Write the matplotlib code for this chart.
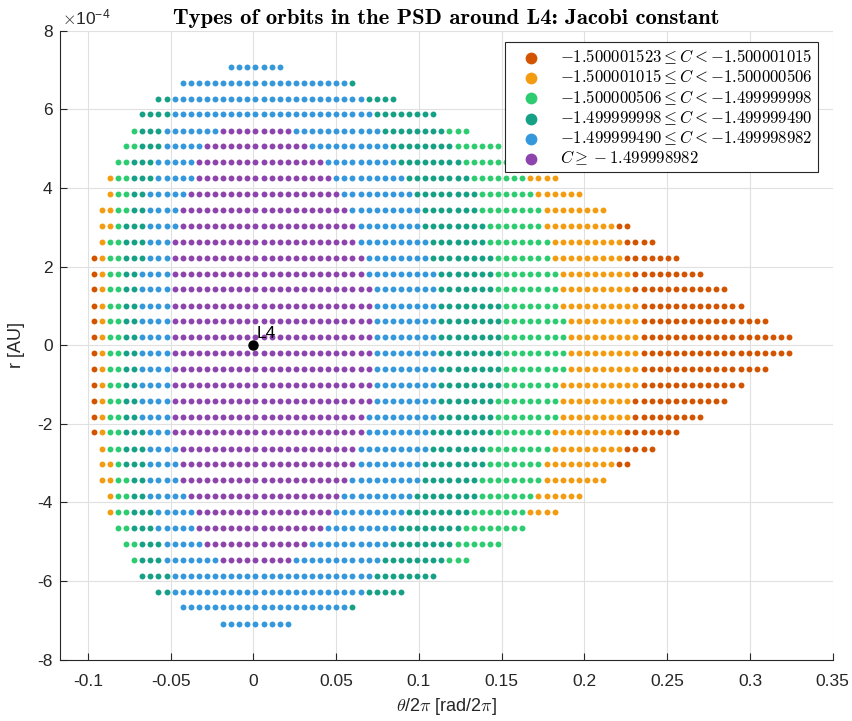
import os
import matplotlib
matplotlib.use('Agg')
import matplotlib.pyplot as plt
from matplotlib.font_manager import FontProperties

plt.rcParams['font.family'] = ['Liberation Sans', 'DejaVu Sans']
plt.rcParams['mathtext.fontset'] = 'cm'
plt.rcParams['axes.unicode_minus'] = False

# theta grid of the initial conditions (theta/2pi)
theta_first = -0.0965
theta_step = 0.004885

# r of every row of initial conditions [AU]
r_rows = [7.08e-4, 6.67e-4, 6.27e-4, 5.87e-4, 5.46e-4, 5.06e-4, 4.65e-4, 4.25e-4, 3.84e-4,
          3.44e-4, 3.03e-4, 2.63e-4, 2.22e-4, 1.82e-4, 1.42e-4, 1.01e-4, 0.61e-4, 0.20e-4,
          -0.20e-4, -0.61e-4, -1.01e-4, -1.42e-4, -1.82e-4, -2.22e-4, -2.63e-4, -3.03e-4,
          -3.44e-4, -3.84e-4, -4.25e-4, -4.65e-4, -5.06e-4, -5.46e-4, -5.87e-4, -6.27e-4,
          -6.67e-4, -7.08e-4]

# orbit type along each row: class letter + first-last column of the theta grid
row_runs = [
    "B17-23",
    "B11-31 T32",
    "T8-9 B10-33 T34-37",
    "T6-9 B10-34 T35-42",
    "G5 T6-8 B9-15 P16-24 B25-35 T36-43 G44-46",
    "G4-5 T6-8 B9-13 P14-26 B27-36 T37-44 G45-50",
    "G3-4 T5-7 B8-12 P13-28 B29-37 T38-45 G46-53",
    "O2 G3-4 T5-7 B8-12 P13-29 B30-38 T39-46 G47-53 O54-57",
    "O2 G3-4 T5-6 B7-11 P12-30 B31-39 T40-47 G48-54 O55-60",
    "O1-2 G3-4 T5-6 B7-10 P11-31 B32-40 T41-47 G48-55 O56-63",
    "O1-2 G3 T4-6 B7-10 P11-32 B33-40 T41-48 G49-55 O56-64 R65-66",
    "O1 G2-3 T4-6 B7-9 P10-32 B33-41 T42-48 G49-56 O57-65 R66-69",
    "R0 O1 G2-3 T4-6 B7-9 P10-33 B34-41 T42-49 G50-56 O57-65 R66-72",
    "R0 O1 G2-3 T4-5 B6-9 P10-33 B34-42 T43-49 G50-57 O58-66 R67-75",
    "R0 O1 G2-3 T4-5 B6-9 P10-34 B35-42 T43-49 G50-57 O58-66 R67-78",
    "R0 O1 G2-3 T4-5 B6-9 P10-34 B35-42 T43-50 G51-57 O58-67 R68-80",
    "R0 O1 G2-3 T4-5 B6-9 P10-34 B35-42 T43-50 G51-58 O59-67 R68-83",
    "R0 O1 G2-3 T4-5 B6-9 P10-34 B35-42 T43-50 G51-58 O59-67 R68-86",
    "R0 O1 G2-3 T4-5 B6-9 P10-34 B35-42 T43-50 G51-58 O59-67 R68-86",
    "R0 O1 G2-3 T4-5 B6-9 P10-34 B35-42 T43-50 G51-58 O59-67 R68-83",
    "R0 O1 G2-3 T4-5 B6-9 P10-34 B35-42 T43-50 G51-57 O58-67 R68-80",
    "R0 O1 G2-3 T4-5 B6-9 P10-34 B35-42 T43-49 G50-57 O58-66 R67-78",
    "R0 O1 G2-3 T4-5 B6-9 P10-33 B34-42 T43-49 G50-57 O58-66 R67-75",
    "R0 O1 G2-3 T4-6 B7-9 P10-33 B34-41 T42-49 G50-56 O57-65 R66-72",
    "O1 G2-3 T4-6 B7-10 P11-32 B33-41 T42-48 G49-56 O57-65 R66-69",
    "O1-2 G3 T4-6 B7-10 P11-32 B33-40 T41-48 G49-55 O56-64 R65-66",
    "O1-2 G3-4 T5-6 B7-10 P11-31 B32-40 T41-47 G48-55 O56-63",
    "O2 G3-4 T5-6 B7-11 P12-30 B31-39 T40-47 G48-54 O55-60",
    "O2 G3-4 T5-7 B8-12 P13-29 B30-38 T39-46 G47-53 O54-57",
    "G3-4 T5-7 B8-12 P13-28 B29-37 T38-45 G46-53",
    "G4-5 T6-8 B9-13 P14-26 B27-36 T37-44 G45-50",
    "G5 T6-8 B9-15 P16-24 B25-35 T36-43 G44-46",
    "T6-9 B10-34 T35-42",
    "T8-9 B10-33 T34-38",
    "B11-31 T32",
    "B16-24",
]

classes = ['R', 'O', 'G', 'T', 'B', 'P']
class_colors = ['#D35400', '#F39C12', '#2ECC71', '#16A085', '#3498DB', '#8E44AD']
class_labels = [r'$-1.500001523 \leq C < -1.500001015$',
                r'$-1.500001015 \leq C < -1.500000506$',
                r'$-1.500000506 \leq C < -1.499999998$',
                r'$-1.499999998 \leq C < -1.499999490$',
                r'$-1.499999490 \leq C < -1.499998982$',
                r'$C \geq -1.499998982$']

xticks = [-0.1, -0.05, 0, 0.05, 0.1, 0.15, 0.2, 0.25, 0.3, 0.35]
xtick_labels = ['-0.1', '-0.05', '0', '0.05', '0.1', '0.15', '0.2', '0.25', '0.3', '0.35']
yticks = [-8e-4, -6e-4, -4e-4, -2e-4, 0, 2e-4, 4e-4, 6e-4, 8e-4]
ytick_labels = ['-8', '-6', '-4', '-2', '0', '2', '4', '6', '8']


def split_runs():
    pts = {c: ([], []) for c in classes}
    for r, runs in zip(r_rows, row_runs):
        for tok in runs.split():
            c = tok[0]
            rng = tok[1:].split('-')
            a = int(rng[0])
            b = int(rng[-1])
            for n in range(a, b + 1):
                pts[c][0].append(theta_first + n * theta_step)
                pts[c][1].append(r)
    return pts


def main():
    pts = split_runs()
    fig = plt.figure(figsize=(8.52, 7.21), dpi=100)
    ax = fig.add_axes([0.0708, 0.085, 0.9066, 0.8724])

    for c, col, lab in zip(classes, class_colors, class_labels):
        ax.scatter(pts[c][0], pts[c][1], s=18, color=col, linewidths=0, label=lab, zorder=3)

    # Lagrange point
    ax.plot(0, 0, 'o', color='k', ms=6.5, zorder=4)
    ax.text(0.0022, 0.18e-4, 'L4', fontsize=12.5, color='k', zorder=5)

    ax.set_xlim(-0.1167, 0.35)
    ax.set_ylim(-8e-4, 8e-4)
    ax.set_xticks(xticks)
    ax.set_xticklabels(xtick_labels)
    ax.set_yticks(yticks)
    ax.set_yticklabels(ytick_labels)
    ax.tick_params(direction='in', length=5, width=0.8, colors='#262626', labelsize=12.5)
    ax.tick_params(axis='x', pad=10)
    ax.tick_params(axis='y', pad=5.5)
    ax.grid(True, color='#e0e0e0', linewidth=0.8)
    ax.set_axisbelow(True)
    for s in ['top', 'right']:
        ax.spines[s].set_visible(False)
    for s in ['left', 'bottom']:
        ax.spines[s].set_color('#262626')
        ax.spines[s].set_linewidth(0.8)

    ax.text(0.002, 1.006, r'$\times\mathdefault{10^{-4}}$', transform=ax.transAxes,
            fontsize=12.5, color='#262626', ha='left', va='bottom')

    ax.set_xlabel(r'$\theta$/2$\pi$ [rad/2$\pi$]', fontsize=13, color='#262626')
    ax.set_ylabel('r [AU]', fontsize=13, color='#262626')
    ax.xaxis.set_label_coords(0.5, -0.058)
    ax.yaxis.set_label_coords(-0.046, 0.5)

    cmb = FontProperties(fname=os.path.join(matplotlib.get_data_path(), 'fonts', 'ttf', 'cmb10.ttf'),
                         size=16.3)
    ax.set_title('Types of orbits in the PSD around L4: Jacobi constant', fontproperties=cmb, pad=5)

    leg = ax.legend(loc='upper right', bbox_to_anchor=(0.981, 0.982), borderaxespad=0,
                    fontsize=12, fancybox=False, edgecolor='#262626', framealpha=1,
                    markerscale=2.0, scatterpoints=1, handlelength=2.6, handletextpad=0.45,
                    borderpad=0.3, labelspacing=0.08)
    leg.get_frame().set_linewidth(0.8)

    fig.savefig('out.png', dpi=100)


if __name__ == '__main__':
    main()
